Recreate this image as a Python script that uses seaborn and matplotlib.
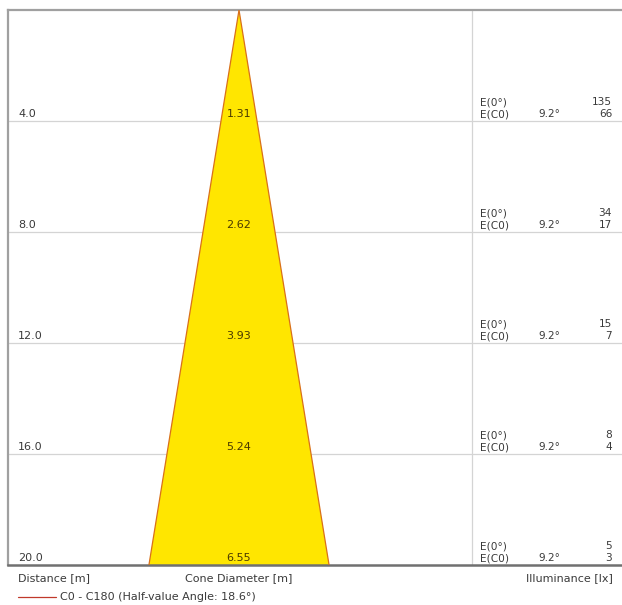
import numpy as np
import pandas as pd
import seaborn as sns
import matplotlib
matplotlib.use("Agg")
import matplotlib.pyplot as plt

# values
distances = [4.0, 8.0, 12.0, 16.0, 20.0]
diameters = [1.31, 2.62, 3.93, 5.24, 6.55]
e_center = [135, 34, 15, 8, 5]
e_c0 = [66, 17, 7, 4, 3]
half_angle = "9.2°"
legend_text = "C0 - C180 (Half-value Angle: 18.6°)"

sns.set_style("white")
plt.rcParams["font.family"] = ["DejaVu Sans"]

W, H = 622, 605
fig = plt.figure(figsize=(W / 100, H / 100), dpi=100)

# pixel frame of the plot box
px_left, px_right, px_top, px_bot = 8, 622, 10, 565
ax = fig.add_axes([px_left / W, 1 - px_bot / H,
                   (px_right - px_left) / W, (px_bot - px_top) / H])

# x in metres, cone axis at pixel 239
scale = 27.5
cx = 239
def mx(px):
    return (px - cx) / scale

ax.set_xlim(mx(px_left), mx(px_right))
ax.set_ylim(distances[-1], 0)

# cone
half = diameters[-1] / 2
cone = pd.DataFrame({"x": [-half, 0, half], "y": [distances[-1], 0, distances[-1]]})
ax.fill(cone["x"], cone["y"], color="#FFE600", zorder=2, lw=0)
sns.lineplot(data=cone, x="x", y="y", sort=False, estimator=None,
             color="#D9701A", lw=0.9, ax=ax, zorder=3)

# grid
for d in distances[:-1]:
    ax.axhline(d, color="#D4D4D4", lw=0.9, zorder=1)
ax.axvline(mx(472), color="#D4D4D4", lw=0.9, zorder=1)

fs = 8
fs2 = 7.6
tc = "#3a3a3a"
off1 = 0.07
off2 = 0.50
for d, dia, e0, ec in zip(distances, diameters, e_center, e_c0):
    ax.text(mx(18), d - off1, f"{d:.1f}", fontsize=fs, color=tc, va="bottom", ha="left", zorder=4)
    ax.text(0, d - off1, f"{dia:.2f}", fontsize=fs, color="#4a3a00", va="bottom", ha="center", zorder=4)
    ax.text(mx(480), d - off2, "E(0°)", fontsize=fs2, color=tc, va="bottom", ha="left")
    ax.text(mx(480), d - off1, "E(C0)", fontsize=fs2, color=tc, va="bottom", ha="left")
    ax.text(mx(538), d - off1, half_angle, fontsize=fs2, color=tc, va="bottom", ha="left")
    ax.text(mx(612), d - off2, str(e0), fontsize=fs2, color=tc, va="bottom", ha="right")
    ax.text(mx(612), d - off1, str(ec), fontsize=fs2, color=tc, va="bottom", ha="right")

ax.set_xticks([])
ax.set_yticks([])
ax.set_xlabel("")
ax.set_ylabel("")
for side in ["top", "left"]:
    ax.spines[side].set_color("#A0A0A0")
    ax.spines[side].set_linewidth(1.6)
ax.spines["bottom"].set_color("#707070")
ax.spines["bottom"].set_linewidth(1.8)
ax.spines["right"].set_visible(False)

# captions under the box
fig.text(18 / W, 1 - 578 / H, "Distance [m]", fontsize=fs, color=tc, va="center", ha="left")
fig.text(cx / W, 1 - 578 / H, "Cone Diameter [m]", fontsize=fs, color=tc, va="center", ha="center")
fig.text(613 / W, 1 - 578 / H, "Illuminance [lx]", fontsize=fs, color=tc, va="center", ha="right")
fig.add_artist(plt.Line2D([18 / W, 56 / W], [1 - 597 / H, 1 - 597 / H], color="#C0392B", lw=0.9))
fig.text(60 / W, 1 - 597 / H, legend_text, fontsize=fs, color=tc, va="center", ha="left")

fig.savefig("out.png", dpi=100, facecolor="white")
